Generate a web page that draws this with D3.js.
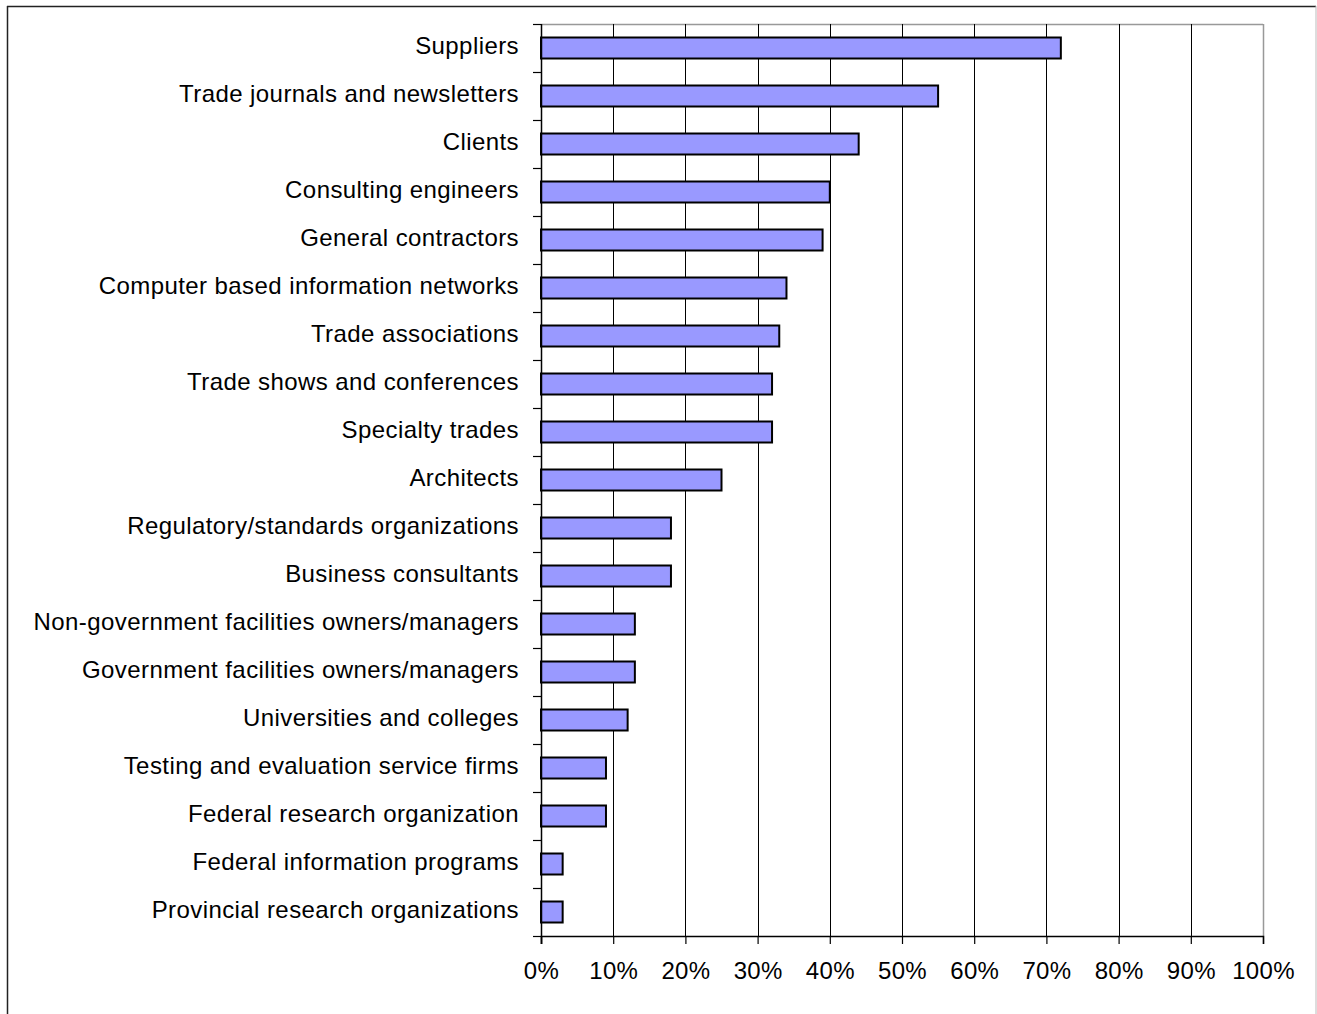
<!DOCTYPE html>
<html>
<head>
<meta charset="utf-8">
<script src="https://cdn.jsdelivr.net/npm/d3@7"></script>
<style>
  html, body { margin: 0; padding: 0; background: #fff; }
  svg { display: block; }
  text { font-family: "Liberation Sans", Arial, sans-serif; fill: #000; }
</style>
</head>
<body>
<div id="chart"></div>
<script>
// Information sources, share of respondents (%)
const categories = [
  "Suppliers",
  "Trade journals and newsletters",
  "Clients",
  "Consulting engineers",
  "General contractors",
  "Computer based information networks",
  "Trade associations",
  "Trade shows and conferences",
  "Specialty trades",
  "Architects",
  "Regulatory/standards organizations",
  "Business consultants",
  "Non-government facilities owners/managers",
  "Government facilities owners/managers",
  "Universities and colleges",
  "Testing and evaluation service firms",
  "Federal research organization",
  "Federal information programs",
  "Provincial research organizations"
];
const values = [72, 55, 44, 40, 39, 34, 33, 32, 32, 25, 18, 18, 13, 13, 12, 9, 9, 3, 3];
const xTicks = [0, 10, 20, 30, 40, 50, 60, 70, 80, 90, 100];

const W = 1317, H = 1014;
const plotL = 541, plotR = 1263, plotT = 24, plotB = 936;

const svg = d3.select("#chart").append("svg")
  .attr("width", W).attr("height", H);

// outer frame
svg.append("line").attr("x1", 7).attr("x2", 1316).attr("y1", 6.5).attr("y2", 6.5)
  .attr("stroke", "#222").attr("stroke-width", 1.5);
svg.append("line").attr("x1", 7.5).attr("x2", 7.5).attr("y1", 6).attr("y2", H)
  .attr("stroke", "#222").attr("stroke-width", 1.5);
svg.append("line").attr("x1", 1316).attr("x2", 1316).attr("y1", 6).attr("y2", H)
  .attr("stroke", "#bbb").attr("stroke-width", 1);

const x = d3.scaleLinear().domain([0, 100]).range([plotL, plotR]);
const y = d3.scaleBand().domain(categories).range([plotT, plotB]).paddingInner(0.5625).paddingOuter(0.28125);
const band = (plotB - plotT) / categories.length;

// plot frame (top and right, grey)
svg.append("line").attr("x1", plotL).attr("x2", plotR).attr("y1", plotT + 0.5).attr("y2", plotT + 0.5)
  .attr("stroke", "#999").attr("stroke-width", 1.5);
svg.append("line").attr("x1", plotR + 0.5).attr("x2", plotR + 0.5).attr("y1", plotT).attr("y2", plotB)
  .attr("stroke", "#999").attr("stroke-width", 1.5);

// vertical gridlines
svg.append("g").selectAll("line")
  .data(xTicks.filter(t => t > 0 && t < 100))
  .join("line")
  .attr("x1", d => Math.round(x(d)) + 0.5).attr("x2", d => Math.round(x(d)) + 0.5)
  .attr("y1", plotT).attr("y2", plotB)
  .attr("stroke", "#000").attr("stroke-width", 1);

// bars
svg.append("g").selectAll("rect")
  .data(values)
  .join("rect")
  .attr("x", x(0))
  .attr("y", (d, i) => y(categories[i]))
  .attr("width", d => x(d) - x(0))
  .attr("height", y.bandwidth())
  .attr("fill", "#9999ff")
  .attr("stroke", "#000")
  .attr("stroke-width", 2);

// category axis
const yAxis = svg.append("g");
yAxis.append("line").attr("x1", plotL + 0.5).attr("x2", plotL + 0.5).attr("y1", plotT).attr("y2", plotB + 8)
  .attr("stroke", "#000").attr("stroke-width", 1.5);
yAxis.selectAll("line.tick")
  .data(d3.range(categories.length + 1))
  .join("line").attr("class", "tick")
  .attr("x1", plotL - 8).attr("x2", plotL)
  .attr("y1", i => plotT + i * band + 0.5).attr("y2", i => plotT + i * band + 0.5)
  .attr("stroke", "#000").attr("stroke-width", 1.2);
yAxis.selectAll("text")
  .data(categories)
  .join("text")
  .attr("x", plotL - 22)
  .attr("y", d => y(d) + y.bandwidth() / 2 + 6)
  .attr("text-anchor", "end")
  .attr("font-size", 24)
  .attr("letter-spacing", 0.42)
  .text(d => d);

// value axis
const xAxis = svg.append("g").attr("transform", `translate(0,${plotB})`)
  .call(d3.axisBottom(x).tickValues(xTicks).tickFormat(d => d + "%").tickSize(8).tickPadding(18));
xAxis.select(".domain").attr("stroke", "#000").attr("stroke-width", 1.5);
xAxis.selectAll(".tick line").attr("stroke", "#000").attr("stroke-width", 1.2);
xAxis.selectAll(".tick text")
  .attr("font-size", 24)
  .attr("letter-spacing", 0.3)
  .attr("font-family", "'Liberation Sans', Arial, sans-serif")
  .attr("fill", "#000");
</script>
</body>
</html>
